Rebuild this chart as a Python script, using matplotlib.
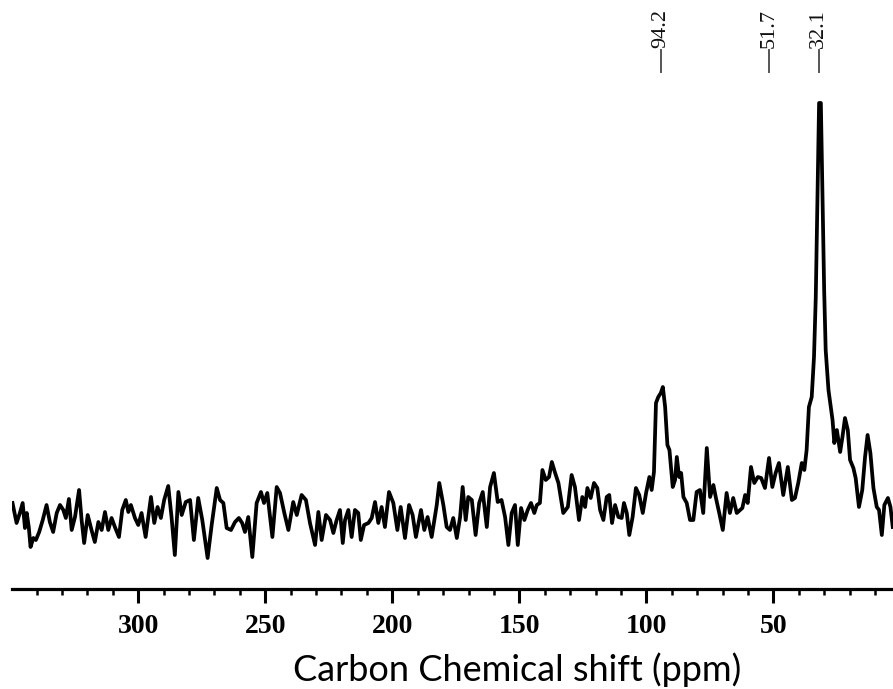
import matplotlib
matplotlib.use('Agg')
import matplotlib.pyplot as plt
from matplotlib.ticker import MultipleLocator
import numpy as np

# chemical shift (ppm) and intensity (a.u.)
ppm = [349.5, 347.9, 346.6, 345.5, 344.6, 343.9, 343.1, 342.4, 341.3, 340.3,
       339.0, 337.6, 336.1, 334.8, 333.5, 332.1, 330.8, 329.5, 328.5, 327.3,
       326.2, 324.9, 323.3, 322.3, 321.3, 319.9, 318.4, 317.1, 315.7, 314.4,
       313.1, 311.8, 310.5, 309.2, 307.6, 306.3, 304.9, 303.9, 302.9, 301.3,
       300.0, 298.7, 297.1, 295.0, 293.7, 292.4, 291.1, 289.8, 288.2, 286.9,
       285.6, 284.2, 282.9, 281.3, 279.6, 278.1, 276.4, 274.8, 272.7, 271.1,
       269.1, 267.8, 266.5, 265.2, 263.5, 261.9, 260.4, 259.1, 258.0, 256.7,
       255.1, 253.4, 251.7, 250.5, 249.2, 247.2, 245.5, 244.2, 242.5, 240.9,
       239.0, 237.6, 235.7, 234.0, 232.4, 230.4, 229.1, 227.8, 226.1, 224.5,
       223.2, 221.9, 220.6, 219.5, 218.6, 217.3, 216.0, 214.7, 213.4, 212.4,
       211.1, 209.4, 208.1, 206.8, 205.5, 204.2, 202.9, 201.3, 199.6, 198.0,
       196.7, 195.0, 193.4, 192.0, 190.7, 188.7, 187.4, 186.1, 184.5, 182.5,
       181.5, 179.9, 178.6, 177.3, 176.0, 174.6, 173.3, 172.3, 171.1, 170.1,
       168.7, 167.2, 165.8, 164.4, 162.8, 161.5, 160.0, 158.5, 157.0, 155.6,
       154.3, 153.0, 151.7, 150.6, 149.3, 148.0, 146.7, 145.4, 144.1, 143.1,
       141.9, 140.9, 139.6, 138.3, 137.2, 135.9, 134.6, 132.7, 130.9, 129.4,
       128.1, 126.5, 125.2, 124.1, 123.2, 121.9, 120.6, 119.3, 118.2, 116.9,
       115.6, 114.6, 113.5, 112.3, 111.0, 109.7, 108.8, 107.7, 106.7, 105.4,
       104.1, 102.8, 101.4, 100.1, 98.8, 97.9, 97.0, 96.2, 95.3, 94.3,
       93.5, 92.6, 91.7, 90.9, 89.6, 88.7, 88.0, 87.1, 86.3, 85.4,
       84.1, 82.8, 81.5, 80.2, 78.9, 77.6, 76.2, 74.9, 73.6, 72.6,
       71.3, 69.9, 68.4, 67.1, 65.8, 64.4, 62.2, 61.1, 60.1, 58.8,
       57.5, 56.1, 54.8, 53.3, 51.7, 50.4, 49.1, 47.8, 46.1, 44.3,
       42.7, 41.5, 40.2, 38.8, 37.8, 36.9, 36.0, 34.9, 34.0, 33.3,
       32.7, 32.0, 31.3, 30.7, 30.0, 29.4, 28.3, 27.4, 26.7, 26.0,
       25.0, 23.7, 22.8, 21.8, 20.7, 19.8, 18.5, 17.6, 16.3, 15.0,
       13.9, 12.9, 11.8, 10.6, 9.3, 8.4, 7.3, 6.3, 4.9, 3.9,
       3.0]
intensity = [86, 66, 76, 86, 61, 76, 62, 42, 51, 49,
             57, 69, 84, 67, 57, 76, 84, 79, 71, 90,
             59, 72, 99, 69, 46, 74, 59, 47, 67, 59,
             77, 59, 71, 62, 52, 79, 89, 77, 84, 71,
             64, 76, 52, 92, 66, 82, 71, 89, 103, 72,
             34, 97, 74, 87, 89, 49, 91, 69, 31, 64,
             101, 89, 86, 61, 59, 67, 71, 66, 57, 72,
             32, 86, 97, 86, 96, 52, 102, 96, 76, 59,
             87, 74, 94, 89, 66, 44, 77, 49, 74, 69,
             56, 69, 79, 46, 69, 79, 52, 79, 76, 49,
             64, 66, 71, 87, 66, 82, 62, 97, 86, 59,
             82, 51, 84, 74, 52, 79, 59, 72, 52, 84,
             106, 84, 62, 59, 71, 51, 72, 102, 69, 92,
             89, 54, 86, 97, 62, 102, 116, 87, 89, 72,
             44, 76, 84, 44, 81, 69, 79, 86, 76, 84,
             86, 119, 109, 112, 127, 116, 106, 76, 82, 114,
             102, 69, 92, 82, 101, 91, 106, 101, 79, 69,
             92, 94, 66, 84, 72, 71, 86, 76, 54, 72,
             101, 94, 76, 96, 112, 99, 117, 186, 192, 196,
             202, 182, 144, 139, 102, 109, 132, 112, 116, 92,
             86, 69, 69, 97, 99, 76, 141, 92, 104, 91,
             76, 59, 96, 76, 91, 76, 81, 94, 86, 122,
             106, 112, 111, 101, 131, 102, 116, 126, 94, 122,
             89, 91, 106, 126, 119, 139, 182, 192, 232, 292,
             382, 486, 486, 399, 299, 239, 199, 182, 169, 146,
             159, 137, 152, 171, 159, 129, 121, 111, 82, 99,
             132, 154, 136, 101, 82, 79, 54, 84, 91, 82,
             62]

peak_labels = [94.2, 51.7, 32.1]

plt.rcParams['font.family'] = ['Liberation Serif', 'DejaVu Serif']

fig = plt.figure(figsize=(8.93, 6.89), dpi=100)
ax = fig.add_axes([12 / 893, 1 - 589 / 689, 1 - 12 / 893, 589 / 689])

ax.plot(ppm, intensity, color='black', lw=2.7, solid_joinstyle='round')

ax.set_xlim(349.7, 2.9)
ax.set_ylim(0, 589)

for p in peak_labels:
    ax.plot([p, p], [517, 539], color='#555555', lw=1.4)
    ax.text(p, 541, f'{p:.1f}', rotation=90, ha='center', va='bottom',
            fontsize=16, color='#111111')

for side in ['left', 'right', 'top']:
    ax.spines[side].set_visible(False)
ax.spines['bottom'].set_linewidth(2.3)
ax.set_yticks([])
ax.xaxis.set_major_locator(MultipleLocator(50))
ax.xaxis.set_minor_locator(MultipleLocator(10))
ax.tick_params(axis='x', which='major', length=10, width=2.2, direction='out', pad=8,
               labelsize=20)
ax.tick_params(axis='x', which='minor', length=4, width=1.8, direction='out')
ax.set_xticks([300, 250, 200, 150, 100, 50])
for lbl in ax.get_xticklabels():
    lbl.set_fontweight('bold')

fig.text(517 / 893, 1 - 681 / 689, 'Carbon Chemical shift (ppm)', ha='center',
         va='baseline', fontsize=26, family=['Lato', 'DejaVu Sans'])

plt.savefig('out.png')
